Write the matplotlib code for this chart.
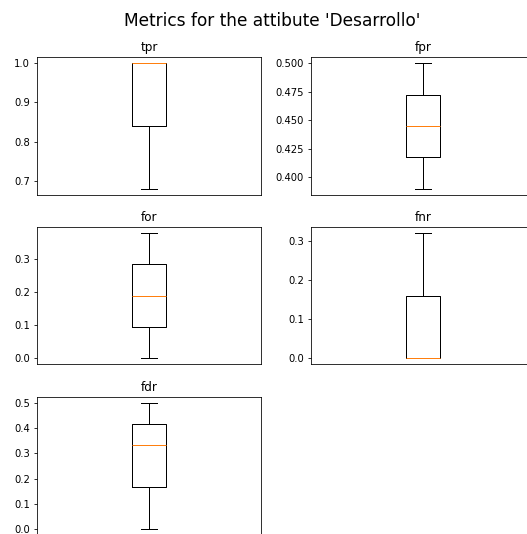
import matplotlib
matplotlib.use("Agg")
import matplotlib.pyplot as plt

metrics = ["tpr", "fpr", "for", "fnr", "fdr"]
tpr = [0.68, 1.0, 1.0]
fpr = [0.39, 0.445, 0.50]
for_ = [0.0, 0.19, 0.38]
fnr = [0.0, 0.0, 0.32]
fdr = [0.0, 0.333, 0.50]
values = [tpr, fpr, for_, fnr, fdr]

DPI = 72
W, H = 527, 534
fig = plt.figure(figsize=(W / DPI, H / DPI), dpi=DPI)

# axes rectangles in pixels: (left, top, width, height)
rects = [(37, 57, 224, 138), (311, 57, 224, 138),
         (37, 227, 224, 137), (311, 227, 224, 137),
         (37, 397, 224, 138)]

for name, vals, (l, t, w, h) in zip(metrics, values, rects):
    ax = fig.add_axes([l / W, 1 - (t + h) / H, w / W, h / H])
    ax.boxplot(vals)
    ax.set_title(name)
    ax.set_xticks([])

fig.suptitle("Metrics for the attibute 'Desarrollo'", x=272 / W, y=1 - 21 / H,
             va="center", fontsize=17)
fig.savefig("out.png", dpi=DPI)
